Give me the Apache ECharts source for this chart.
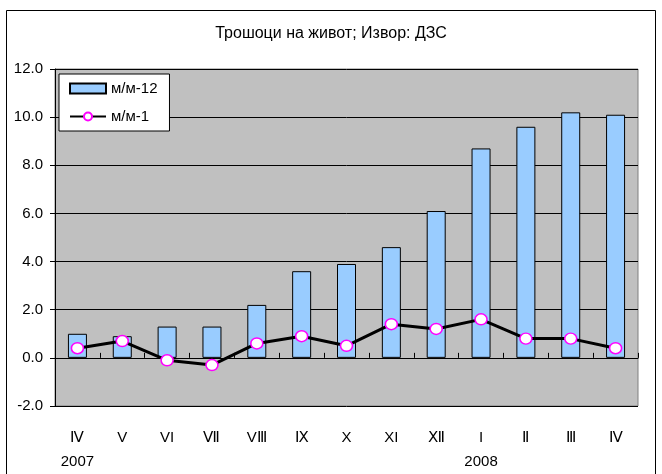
<!DOCTYPE html>
<html>
<head>
<meta charset="utf-8">
<script src="https://cdn.jsdelivr.net/npm/echarts@6/dist/echarts.min.js"></script>
<style>
html,body{margin:0;padding:0;background:#fff;}
#c{width:662px;height:474px;}
</style>
</head>
<body>
<div id="c"></div>
<script>
var months = ['Ⅳ','V','VI','Ⅶ','VⅢ','Ⅸ','X','XI','Ⅻ','I','Ⅱ','Ⅲ','Ⅳ'];
var years = ['2007','','','','','','','','','2008','','',''];
var yoy = [1.0,0.9,1.3,1.3,2.2,3.6,3.9,4.6,6.1,8.7,9.6,10.2,10.1];
var mom = [0.4,0.7,-0.1,-0.3,0.6,0.9,0.5,1.4,1.2,1.6,0.8,0.8,0.4];
var yTicks = {min:-2, max:12, interval:2};

var cats = months.map(function(m,i){ return m + '\n' + years[i]; });
var chart = echarts.init(document.getElementById('c'), null, {renderer:'canvas'});
var font = '"Liberation Sans", Arial, sans-serif';
chart.setOption({
  animation:false,
  backgroundColor:'#fff',
  textStyle:{fontFamily:font},
  title:{
    text:'Трошоци на живот; Извор: ДЗС',
    left:'center', top:21,
    textStyle:{fontFamily:font, fontSize:16, fontWeight:'normal', color:'#000'}
  },
  graphic:[{
    type:'rect', shape:{x:6.5, y:10.5, width:649, height:470},
    style:{fill:null, stroke:'#000', lineWidth:1}, z:-1
  }],
  legend:{
    left:59, top:74, orient:'vertical',
    backgroundColor:'#fff', borderColor:'#000', borderWidth:1,
    padding:[7,12,7,10], itemGap:13, itemWidth:36, itemHeight:10,
    textStyle:{fontFamily:font, fontSize:15, color:'#000'},
    data:[{name:'м/м-12', icon:'rect'},{name:'м/м-1'}]
  },
  grid:{left:55, right:24, top:69, bottom:63, show:true,
        backgroundColor:'#C0C0C0', borderColor:'#808080', borderWidth:1},
  xAxis:[{
    type:'category', data:cats, boundaryGap:true,
    axisLine:{show:false, onZero:false}, axisTick:{show:false},
    axisLabel:{fontFamily:font, fontSize:15, color:'#000', margin:20, lineHeight:24}
  },{
    type:'category', data:cats, boundaryGap:true,
    axisLine:{show:true, onZero:true, lineStyle:{color:'#000', width:1}},
    axisTick:{show:true, length:5, lineStyle:{color:'#000'}},
    axisLabel:{show:false}
  }],
  yAxis:{
    type:'value', min:yTicks.min, max:yTicks.max, interval:yTicks.interval,
    axisLine:{show:true, lineStyle:{color:'#000'}},
    axisTick:{show:true, length:5, lineStyle:{color:'#000'}},
    axisLabel:{fontFamily:font, fontSize:15, color:'#000', margin:12,
      formatter:function(v){ return v.toFixed(1); }},
    splitLine:{show:true, lineStyle:{color:'#000', width:1}}
  },
  series:[{
    name:'м/м-12', type:'bar', data:yoy, barWidth:19, xAxisIndex:0,
    itemStyle:{color:'#99CCFF', borderColor:'#000', borderWidth:1}
  },{
    name:'м/м-1', type:'line', data:mom, xAxisIndex:0,
    lineStyle:{color:'#000', width:3},
    symbol:'circle', symbolSize:[12,11],
    itemStyle:{color:'#fff', borderColor:'#FF00FF', borderWidth:1.5},
    z:5
  }]
});
</script>
</body>
</html>
